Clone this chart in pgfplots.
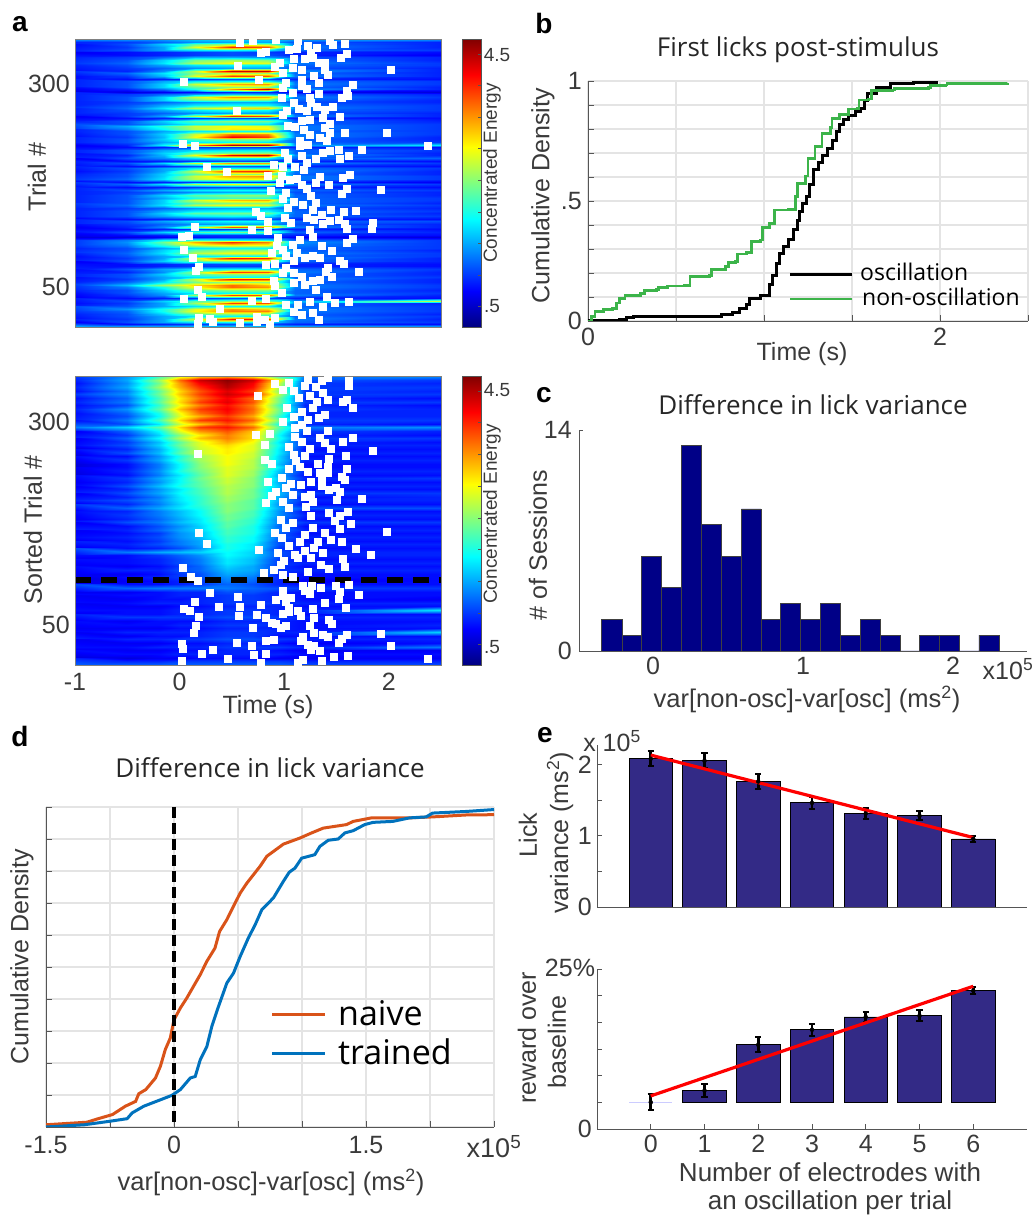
\documentclass[border=0pt]{standalone}
\usepackage{pgfplots}
\pgfplotsset{compat=1.18}
\usepackage{fontspec}
\setmainfont{Liberation Sans}
\newfontfamily\myr{Open Sans}
\definecolor{txt}{HTML}{3A3A3A}
\definecolor{gridc}{HTML}{E4E4E4}
\definecolor{axc}{HTML}{555555}
\definecolor{barp}{RGB}{51,42,134}
\definecolor{barn}{RGB}{0,0,135}
\definecolor{cnaive}{HTML}{D95319}
\definecolor{ctrain}{HTML}{0072BD}
\definecolor{cgreen}{HTML}{3CB44A}
\newcommand{\fs}[1]{\fontsize{#1}{#1}\selectfont}
\newcommand{\T}[4][0]{\node[inner sep=0pt,text=txt,rotate=#1] at (#2,#3) {#4};}
\pgfplotsset{
 every axis/.append style={scale only axis,enlargelimits=false,
  /pgf/number format/assume math mode=true,
  tick label style={font=\fs{25},text=txt,inner sep=0pt},
  axis line style={-,color=axc,line width=.9pt},
  tick style={color=axc,line width=.9pt},
  major tick length=6pt,minor tick length=0pt,tick align=inside},
 heat/.style={colormap/jet,point meta min=.18,point meta max=4.74,xmin=-1,xmax=2.5,
  width=366pt,axis on top,axis line style={color=gray,line width=.8pt},
  major tick length=0pt,xtick pos=bottom,ytick pos=left,yticklabel shift=5pt},
 whitesq/.style={only marks,mark=square*,mark size=3.5pt,mark options={fill=white,draw=white,line width=0pt}},
 cbar/.style={colormap/jet,point meta min=.18,point meta max=4.74,xmin=0,xmax=1,ymin=.18,ymax=4.74,
  width=19pt,axis on top,xtick=\empty,ytick={.5,1,1.5,2,2.5,3,3.5,4,4.5},yticklabels={},ytick pos=right,major tick length=3pt,
  axis line style={color=axc,line width=.8pt}},
 hmap/.style={surf,shader=interp,mesh/ordering=x varies,point meta=explicit},
}
\begin{document}
\begin{tikzpicture}[declare function={
 tcol(\i)=(\i<.5)?-1:((\i<1.5)?-.5:((\i<2.5)?-.2:((\i<3.5)?0:((\i<4.5)?.2:((\i<5.5)?.45:((\i<6.5)?.7:((\i<7.5)?.95:((\i<8.5)?1.2:2.5))))))));
 ucol(\i)=(\i<.5)?-1:((\i<1.5)?-.5:((\i<2.5)?-.15:((\i<3.5)?.15:((\i<4.5)?.5:((\i<5.5)?.85:((\i<6.5)?1.1:2.5))))));}]
\path[use as bounding box] (0,0) rectangle (1036pt,1216pt);
% ---------- a top
\begin{axis}[heat,at={(75pt,889pt)},height=288pt,ymin=1,ymax=355,xtick=\empty,ytick={50,300},yticklabels={50,300}]
\addplot[hmap,mesh/cols=8] table[row sep=\\,header=false,meta index=0,
 x expr={ucol(mod(\coordindex,8))},
 y expr={355-3.248*floor(\coordindex/8)}]{
1.5\\1.5\\1.5\\1.7\\1.8\\1.7\\1.5\\1.5\\
.9\\1\\1.2\\1.4\\1.5\\1.5\\1.1\\.9\\
.9\\1.1\\1.7\\2.3\\2.6\\2.5\\1.2\\.9\\
.8\\1\\1.5\\2.9\\4\\3.8\\1.3\\.9\\
.9\\1.1\\1.5\\1.8\\1.9\\1.8\\1.2\\1\\
.8\\.8\\.9\\1\\1.1\\1\\.9\\.8\\
.7\\.8\\.9\\1\\1.1\\1.1\\.9\\.7\\
.9\\1\\1.2\\1.5\\1.5\\1.4\\1.1\\.9\\
.9\\1.1\\1.7\\2.4\\2.6\\2.5\\1.2\\.9\\
1\\1.2\\1.8\\2.7\\3\\2.9\\1.3\\1\\
.9\\1.1\\1.5\\1.8\\1.9\\1.9\\1.2\\1\\
.9\\1\\1.2\\1.4\\1.5\\1.5\\1.1\\.9\\
.8\\.9\\1.4\\2.7\\4.4\\4.4\\1.4\\.9\\
1\\1.2\\1.8\\2.5\\2.7\\2.5\\1.2\\.9\\
.8\\1\\1.6\\2.9\\3.9\\3.8\\1.3\\.9\\
.8\\.8\\.9\\1\\1.1\\1.1\\.9\\.8\\
.9\\1.1\\1.5\\1.8\\1.9\\1.9\\1.2\\1\\
.9\\1.1\\1.7\\2.8\\3.4\\3.5\\1.3\\1\\
.9\\1.1\\1.7\\2.3\\2.5\\2.5\\1.2\\.9\\
.8\\.9\\1.3\\2\\3.5\\4.5\\1.4\\.9\\
.6\\.6\\.7\\.8\\.9\\.9\\.7\\.6\\
.9\\1\\1.2\\1.4\\1.6\\1.5\\1.1\\.9\\
.9\\1.1\\1.7\\2.8\\3.5\\3.4\\1.3\\1\\
.9\\1.1\\1.7\\2.3\\2.5\\2.4\\1.2\\.9\\
.9\\1\\1.2\\1.4\\1.5\\1.5\\1.1\\.9\\
.9\\1.1\\1.5\\1.8\\1.9\\1.9\\1.2\\1\\
1\\1.2\\1.8\\2.7\\3.1\\3.2\\1.3\\1\\
.9\\1.1\\1.5\\1.8\\2\\1.9\\1.2\\1\\
.9\\1\\1.2\\1.4\\1.5\\1.5\\1.1\\.9\\
.8\\1\\1.5\\2.7\\4\\3.9\\1.3\\.9\\
.7\\.8\\.9\\1\\1.1\\1.1\\.9\\.8\\
.9\\1.1\\1.7\\2.3\\2.5\\2.4\\1.2\\.9\\
.9\\1.1\\1.5\\1.9\\1.9\\1.8\\1.2\\1\\
1.1\\1.5\\2.1\\2.8\\3\\2.9\\1.3\\1\\
1\\1.3\\1.9\\2.7\\3.1\\3.1\\1.3\\1\\
.9\\1.1\\1.5\\1.8\\1.9\\1.9\\1.2\\1\\
.9\\1.1\\1.7\\2.8\\3.6\\3.5\\1.3\\1\\
.8\\1\\1.6\\3\\4.2\\3.9\\1.3\\.9\\
.9\\1.1\\1.7\\2.3\\2.5\\2.5\\1.2\\.9\\
.9\\1.1\\1.5\\1.8\\1.9\\1.8\\1.2\\1\\
.7\\.9\\1.9\\3.6\\4.5\\4.5\\1.4\\1.8\\
.7\\.8\\.9\\1\\1\\1\\.9\\.8\\
.9\\1.1\\1.5\\1.7\\1.8\\1.8\\1.2\\1\\
.9\\1.1\\1.7\\2.3\\2.4\\2.5\\1.2\\.9\\
.8\\.9\\1.6\\3\\4.3\\4.5\\1.4\\.9\\
.9\\1.1\\1.4\\1.8\\1.9\\1.9\\1.2\\1.2\\
.7\\.8\\.9\\1\\1.1\\1\\.9\\.8\\
.9\\1.1\\1.7\\2.8\\3.5\\3.4\\1.3\\1\\
.8\\.8\\.9\\1.1\\1.2\\1.1\\.9\\.8\\
.9\\1.1\\1.5\\1.8\\1.9\\1.9\\1.2\\1\\
.8\\1\\1.5\\2.8\\3.9\\4\\1.3\\.9\\
.9\\1.1\\1.7\\2.3\\2.5\\2.5\\1.2\\.9\\
.9\\1.1\\1.7\\2.8\\3.4\\3.5\\1.3\\1\\
1\\1.2\\1.8\\2.7\\3\\3\\1.3\\1\\
.7\\.8\\.9\\1\\1\\1\\.9\\.7\\
1\\1.2\\1.8\\2.7\\3\\3\\1.3\\1\\
.8\\.8\\.9\\1\\1.1\\1\\.9\\.8\\
.9\\1.1\\1.5\\1.8\\1.9\\1.9\\1.2\\1\\
.9\\1\\1.2\\1.4\\1.5\\1.5\\1.1\\.9\\
.9\\1.1\\1.7\\2.3\\2.5\\2.5\\1.2\\.9\\
.9\\1.1\\1.5\\2\\2.2\\2.1\\1.2\\1\\
.9\\1.1\\1.7\\2.8\\3.3\\3.4\\1.2\\1\\
.9\\1.1\\1.7\\2.3\\2.5\\2.5\\1.2\\.9\\
1\\1.2\\1.8\\2.7\\3\\2.9\\1.3\\1\\
.9\\1\\1.2\\1.4\\1.5\\1.5\\1.1\\.9\\
.9\\1.1\\1.5\\1.8\\1.9\\1.9\\1.2\\1\\
.9\\1.1\\1.7\\2.3\\2.4\\2.4\\1.2\\.9\\
.9\\1.1\\1.5\\1.8\\1.9\\1.8\\1.2\\1\\
.7\\.8\\.9\\1\\1.1\\1.1\\.9\\.8\\
.9\\1.1\\1.5\\1.8\\1.9\\1.9\\1.2\\1.1\\
.9\\1\\1.2\\1.4\\1.5\\1.5\\1.1\\.9\\
.8\\.9\\1.4\\2.6\\3.8\\3.7\\1.3\\.9\\
.7\\.8\\.9\\1\\1\\1\\.9\\.8\\
.9\\1.1\\1.7\\2.2\\2.4\\2.4\\1.2\\.9\\
.8\\.8\\.9\\1\\1\\1\\.9\\.8\\
.6\\.6\\.7\\.8\\.9\\.9\\.7\\.6\\
1\\1.3\\1.9\\2.1\\2\\1.9\\1.2\\1\\
1\\1.4\\2.4\\3.4\\4\\3.6\\1.4\\1\\
1\\1.3\\2.1\\2.8\\3.1\\3\\1.3\\1\\
.9\\1.1\\1.5\\1.8\\1.9\\1.9\\1.2\\1\\
.9\\1.1\\1.7\\2.3\\2.5\\2.5\\1.2\\.9\\
1\\1.2\\1.8\\2.7\\3\\3\\1.3\\1\\
.9\\1.1\\1.5\\1.8\\1.9\\1.9\\1.2\\1\\
.8\\1\\1.5\\2.8\\4.1\\4\\1.3\\.9\\
.9\\1.1\\1.7\\2.3\\2.5\\2.5\\1.2\\.9\\
.7\\.8\\.9\\1\\1.1\\1.1\\.9\\.8\\
.8\\.8\\.9\\1\\1\\1\\.9\\.8\\
.9\\1.1\\1.5\\1.8\\1.9\\1.9\\1.2\\1\\
.8\\.9\\1.4\\2.6\\3.9\\3.8\\1.3\\.9\\
.9\\1.1\\1.7\\2.3\\2.5\\2.5\\1.2\\.9\\
.9\\1.1\\1.5\\1.8\\1.9\\1.9\\1.2\\1\\
.8\\1\\1.5\\2.8\\4.1\\4\\1.3\\.9\\
.9\\1.2\\1.8\\2.4\\2.5\\2.5\\1.2\\.9\\
1.1\\1.6\\2.6\\3.2\\3.7\\3.3\\1.3\\1\\
1\\1.3\\2\\3\\3.7\\3.5\\1.3\\1\\
.9\\1.1\\1.7\\2.3\\2.5\\2.5\\1.2\\.9\\
.9\\1.1\\1.5\\1.8\\1.9\\1.9\\1.2\\1\\
.8\\1\\1.4\\2.6\\3.9\\3.8\\1.3\\.9\\
.7\\.8\\.9\\1\\1.1\\1.1\\.9\\.8\\
.9\\1.1\\1.7\\2.3\\2.5\\2.5\\1.5\\2.8\\
.8\\1\\1.5\\2.6\\3.9\\3.8\\1.3\\.9\\
.9\\1.1\\1.5\\1.8\\1.9\\1.9\\1.2\\1\\
1.1\\1.4\\2\\2.9\\3.5\\3.2\\1.3\\1\\
1\\1.2\\2\\3\\3.6\\3.6\\1.3\\1\\
.9\\1.1\\1.7\\2.3\\2.5\\2.5\\1.2\\.9\\
.9\\1.1\\1.5\\1.8\\1.9\\1.9\\1.2\\1\\
.8\\1\\1.5\\2.8\\4.1\\4\\1.3\\.9\\
.9\\1.1\\1.5\\1.8\\1.9\\1.8\\1.2\\1\\
.7\\.8\\.9\\1\\1.1\\1.1\\.9\\.8\\
1.7\\1.7\\1.7\\1.8\\1.8\\1.8\\1.7\\1.7\\
};
\addplot[whitesq] coordinates {(.58,350)(.70,353)(.92,354)(1.13,352)(1.44,353)(1.47,348)(1.58,349)(1.05,342)(1.12,343)(.78,338)(.83,339)(1.23,346)(1.31,344)(1.26,338)(1.60,336)(1.54,332)(1.28,332)(1.20,330)(1.33,325)(1.39,326)(.56,322)(.91,321)(.96,325)(1.09,330)(1.08,319)(1.17,317)(.99,313)(2.02,317)(1.39,317)(1.42,311)(1.29,309)(1.17,305)(.04,302)(.76,305)(1.33,301)(1.02,301)(.99,295)(1.17,297)(1.22,293)(1.66,298)(1.60,291)(1.55,282)(1.61,285)(1.08,289)(.98,282)(1.33,287)(1.25,282)(1.26,276)(1.09,276)(1.47,272)(1.39,268)(1.31,271)(.55,267)(1.03,267)(1.14,269)(1.22,266)(.99,261)(1.53,259)(1.37,258)(1.25,256)(1.17,254)(1.04,248)(1.10,247)(1.44,250)(1.19,243)(1.39,246)(1.58,239)(1.98,239)(1.25,237)(1.44,239)(1.34,233)(1.15,229)(1.41,230)(.03,226)(.15,224)(1.23,225)(1.15,224)(2.38,223)(1.74,219)(1.52,219)(1.44,217)(1.37,215)(1.01,215)(1.62,211)(1.17,211)(1.53,207)(1.04,207)(1.30,207)(1.22,203)(.90,200)(.26,198)(1.10,198)(.99,198)(1.19,194)(.45,191)(1.63,188)(.98,186)(.85,187)(1.56,184)(1.34,185)(1.06,182)(1.12,183)(.96,178)(1.30,178)(1.43,176)(1.17,176)(1.60,170)(1.93,169)(.87,168)(1.22,170)(1.02,166)(1.55,164)(1.26,162)(.99,158)(1.09,155)(1.30,153)(1.18,151)(1.04,147)(1.28,145)(1.69,144)(.73,142)(1.45,145)(1.57,142)(1.36,139)(.78,137)(1.01,135)(1.22,135)(1.29,133)(1.52,133)(1.44,131)(1.85,129)(.85,130)(1.07,129)(1.37,127)(1.58,127)(.15,124)(1.60,121)(1.84,121)(.69,120)(.85,119)(1.25,120)(.02,112)(.09,113)(.94,110)(1.28,112)(1.66,109)(1.60,104)(1.15,108)(1.08,102)(1.36,100)(.93,100)(.04,96)(.99,96)(1.46,94)(.88,92)(1.12,92)(1.02,88)(1.28,88)(.13,86)(1.20,86)(1.34,86)(1.53,82)(1.09,82)(1.57,79)(.91,79)(.83,77)(.19,75)(1.42,73)(1.02,73)(.16,70)(1.09,67)(1.72,69)(.99,67)(1.40,68)(1.46,63)(1.17,63)(1.34,59)(.90,57)(1.28,57)(1.09,55)(1.20,53)(.91,51)(.18,47)(1.30,47)(.98,43)(.21,38)(.04,35)(.83,36)(1.41,38)(1.25,32)(1.62,32)(.69,33)(1.49,30)(1.02,28)(1.13,28)(1.37,26)(.39,23)(1.09,20)(1.28,18)(1.17,16)(.19,12)(.29,11)(.32,7)(.74,13)(.74,7)(.91,12)(.82,9)(.58,6)(.18,5)(.86,4)(1.33,10)};
\end{axis}
\begin{axis}[cbar,at={(462pt,889pt)},height=288pt]
\addplot[surf,shader=interp,mesh/cols=2,point meta=y] coordinates {(0,.18)(1,.18)(0,4.74)(1,4.74)};
\end{axis}
% ---------- a bottom
\begin{axis}[heat,at={(75pt,551pt)},height=289pt,ymin=1,ymax=357,xtick={-1,0,1,2},xticklabels={-1,0,1,2},xticklabel shift=8pt,ytick={50,300},yticklabels={50,300}]
\addplot[hmap,mesh/cols=10] table[row sep=\\,header=false,meta index=0,
 x expr={tcol(mod(\coordindex,10))},
 y expr={357-4.506*floor(\coordindex/10)}]{
1\\1.4\\2.1\\2.8\\3.1\\3.2\\2.9\\2\\1.2\\1.4\\
.9\\1.5\\2.6\\3.7\\4.4\\4.7\\4.4\\3.1\\1.1\\1\\
.8\\1.4\\2.4\\3.5\\4.2\\4.6\\4.2\\2.8\\1\\.9\\
.9\\1.5\\2.6\\3.4\\4\\4.5\\4.1\\2.7\\1\\1\\
.8\\1.3\\2.3\\3.2\\3.8\\4.3\\3.9\\2.5\\1\\.9\\
1\\1.4\\2.4\\3.3\\3.9\\4.4\\4.1\\2.7\\1\\1\\
.8\\1.2\\2.2\\3.1\\3.7\\4.2\\3.7\\2.4\\.9\\.8\\
.9\\1.3\\2.3\\3.2\\3.9\\4.3\\3.8\\2.4\\1\\1\\
.8\\1.1\\2.1\\3\\3.6\\4.1\\3.6\\2.2\\.9\\.8\\
.9\\1.4\\2.3\\3.3\\3.9\\4.2\\3.7\\2.4\\1\\.9\\
.8\\1.2\\2\\3\\3.7\\4.1\\3.6\\2.3\\.9\\.9\\
.8\\1.1\\1.9\\2.9\\3.4\\3.9\\3.4\\2.1\\.9\\.9\\
.9\\1.3\\2.2\\3.2\\3.9\\4.1\\3.7\\2.4\\1\\1\\
.8\\1.1\\1.8\\2.8\\3.3\\3.8\\3.3\\2\\.9\\.8\\
1.3\\1.7\\2.3\\3.2\\3.9\\4.1\\3.7\\2.3\\1.3\\1.4\\
.8\\1.2\\1.9\\2.9\\3.5\\3.8\\3.3\\2.1\\1\\.9\\
.7\\1\\1.7\\2.5\\3.1\\3.6\\3.2\\1.9\\.9\\.8\\
.9\\1.2\\1.9\\2.7\\3.3\\3.6\\3.2\\2\\1\\1\\
.7\\1\\1.6\\2.3\\2.9\\3.4\\3\\1.8\\.9\\.8\\
.8\\1.1\\1.7\\2.4\\2.9\\3.2\\2.9\\1.9\\.9\\.9\\
.6\\.9\\1.5\\2.2\\2.8\\3.1\\2.9\\1.8\\.8\\.8\\
.8\\1.1\\1.6\\2.3\\2.8\\3.1\\2.8\\1.8\\.9\\.9\\
.6\\.8\\1.4\\2\\2.6\\3\\2.8\\1.7\\.8\\.8\\
.8\\1\\1.5\\2.1\\2.6\\3\\2.7\\1.7\\.9\\.9\\
.6\\.8\\1.3\\1.9\\2.5\\3\\2.7\\1.6\\.8\\.8\\
.6\\.8\\1.3\\1.9\\2.5\\2.9\\2.7\\1.8\\.8\\.8\\
.7\\.9\\1.4\\2\\2.4\\2.9\\2.6\\1.6\\.9\\.9\\
.6\\.8\\1.3\\1.8\\2.3\\2.9\\2.6\\1.5\\.8\\.8\\
.8\\1\\1.5\\1.9\\2.4\\2.8\\2.5\\1.6\\.9\\1\\
.7\\.9\\1.4\\1.9\\2.3\\2.8\\2.5\\1.5\\.8\\.8\\
.8\\1.1\\1.6\\2\\2.3\\2.7\\2.5\\1.6\\.9\\.9\\
.7\\.9\\1.4\\1.8\\2.2\\2.7\\2.4\\1.5\\.8\\.8\\
.9\\1.1\\1.5\\1.9\\2.2\\2.7\\2.4\\1.6\\1\\1\\
.7\\.9\\1.3\\1.8\\2.1\\2.6\\2.4\\1.5\\.8\\.9\\
.9\\1.1\\1.4\\1.8\\2.1\\2.6\\2.3\\1.5\\.9\\.9\\
.7\\.9\\1.3\\1.7\\2.1\\2.5\\2.3\\1.4\\.8\\.8\\
1\\1.2\\1.5\\1.8\\2\\2.5\\2.3\\1.5\\1.1\\1.1\\
.7\\.9\\1.3\\1.6\\1.9\\2.5\\2.2\\1.4\\.8\\.8\\
.8\\1\\1.3\\1.6\\1.9\\2.4\\2.2\\1.4\\.9\\.9\\
.7\\.9\\1.2\\1.5\\1.8\\2.4\\2.1\\1.3\\.8\\.8\\
.9\\1.1\\1.3\\1.6\\1.8\\2.3\\2.1\\1.3\\1\\1\\
.7\\.8\\1.1\\1.4\\1.7\\2.3\\2\\1.2\\.8\\.8\\
.9\\.9\\1.2\\1.5\\1.7\\2.2\\2\\1.3\\.9\\.9\\
.7\\.8\\1\\1.4\\1.6\\2.2\\2\\1.2\\.8\\.8\\
.8\\.9\\1.1\\1.4\\1.6\\2.1\\1.9\\1.2\\.9\\.9\\
.7\\.8\\1\\1.3\\1.5\\2.1\\1.9\\1.1\\.8\\.8\\
.9\\.9\\1.1\\1.3\\1.5\\2\\1.8\\1.1\\.9\\.9\\
.7\\.8\\.9\\1.1\\1.4\\2\\1.8\\1\\.8\\.8\\
1.1\\1.3\\1.5\\1.6\\1.7\\1.9\\1.7\\1.1\\.9\\.9\\
.8\\.8\\1\\1.2\\1.4\\1.9\\1.7\\1.1\\.9\\.9\\
.7\\.8\\.9\\1.1\\1.3\\1.8\\1.6\\1\\.8\\.8\\
.8\\.8\\.9\\1.1\\1.3\\1.8\\1.6\\1\\.9\\.9\\
.7\\.7\\.8\\1\\1.2\\1.7\\1.5\\1\\.8\\.8\\
.8\\.9\\.9\\1.1\\1.2\\1.6\\1.5\\1\\.9\\.9\\
.7\\.7\\.8\\1\\1.1\\1.5\\1.4\\.9\\.8\\.8\\
.7\\.8\\.9\\1\\1.1\\1.4\\1.3\\.9\\.8\\.8\\
.6\\.7\\.8\\.9\\1\\1.3\\1.2\\.9\\.7\\.8\\
.7\\.8\\.8\\.9\\1\\1.2\\1.1\\.9\\.8\\.8\\
1.1\\1.2\\1.3\\1.3\\1.3\\1.3\\1.2\\1.1\\1\\1\\
.7\\.7\\.8\\.9\\.9\\1.1\\1.1\\.9\\.8\\.8\\
.8\\.8\\.8\\.9\\.9\\1\\1\\.9\\.8\\.8\\
.7\\.7\\.8\\.8\\.9\\1\\1\\.9\\.8\\.7\\
.8\\.8\\.9\\.9\\.9\\1\\1\\1\\.9\\.9\\
.7\\.7\\.7\\.8\\.8\\.9\\.9\\.9\\.8\\.8\\
.8\\.8\\.8\\.9\\.9\\1\\1\\.9\\.9\\1.8\\
.7\\.8\\.8\\.9\\.9\\1\\1\\.9\\.8\\.8\\
.9\\1\\1\\1\\1\\1.1\\1.1\\1\\.9\\.9\\
.7\\.7\\.8\\.8\\.8\\.9\\.9\\.9\\.8\\.8\\
.8\\.8\\.8\\.9\\.9\\1\\1\\.9\\.8\\.9\\
.7\\.7\\.7\\.8\\.8\\.9\\.9\\.9\\.8\\.8\\
.8\\.9\\.9\\.9\\.9\\1\\1\\.9\\.9\\1.7\\
.7\\.7\\.8\\.8\\.9\\1\\1\\.8\\.8\\.8\\
.9\\.9\\.9\\1\\1\\1.1\\1.1\\1\\.9\\.9\\
.7\\.7\\.7\\.8\\.8\\.9\\.9\\.8\\.7\\.8\\
.8\\.8\\.9\\.9\\.9\\1\\1\\1\\.9\\1.3\\
.7\\.7\\.7\\.8\\.8\\.9\\.9\\.8\\.7\\.7\\
.8\\.8\\.8\\.9\\.9\\.9\\.9\\.9\\.8\\.8\\
.6\\.6\\.7\\.7\\.8\\.8\\.8\\.7\\.7\\.7\\
.9\\.9\\.9\\1\\1\\1\\1\\1\\.9\\.9\\
1.2\\1.2\\1.2\\1.2\\1.2\\1.2\\1.2\\1.2\\1.1\\1.1\\
};
\addplot[whitesq] coordinates {(.91,347)(1.05,348)(1.23,352)(1.36,351)(1.42,355)(1.62,351)(1.62,345)(1.20,345)(1.30,344)(.99,340)(1.09,338)(1.37,336)(.75,332)(1.14,330)(1.25,332)(1.42,327)(1.56,325)(1.31,325)(1.66,318)(1.03,317)(1.28,317)(1.60,327)(1.17,313)(1.39,309)(1.09,307)(1.33,305)(.99,300)(1.23,303)(1.17,297)(1.10,293)(1.42,289)(1.22,289)(.73,284)(.86,285)(1.10,282)(1.66,281)(1.34,280)(1.56,276)(.82,272)(1.17,276)(1.39,274)(1.05,269)(1.25,267)(1.45,267)(1.85,264)(.18,261)(1.09,260)(1.59,259)(1.20,258)(1.43,255)(.82,254)(.88,248)(1.11,252)(1.32,249)(1.42,245)(1.05,243)(1.15,245)(1.60,242)(1.23,239)(1.34,237)(1.55,233)(1.58,229)(.98,231)(1.42,237)(.85,226)(1.36,230)(1.07,224)(1.16,223)(1.26,226)(1.36,221)(1.50,219)(1.43,217)(1.02,219)(1.53,214)(.92,214)(.88,209)(1.08,210)(1.20,208)(1.26,211)(1.74,206)(.83,200)(.99,202)(1.51,204)(1.28,202)(1.05,194)(1.21,196)(1.43,188)(1.61,189)(1.53,184)(1.26,184)(.97,180)(1.49,178)(1.08,176)(1.64,175)(1.02,170)(1.28,170)(1.53,168)(.19,163)(1.98,165)(.91,163)(1.20,161)(1.39,163)(.98,157)(1.15,153)(1.32,153)(1.45,155)(.26,150)(1.55,153)(1.05,148)(1.20,141)(1.29,145)(.76,143)(1.69,144)(.94,139)(1.10,137)(1.37,139)(1.83,136)(1.26,133)(1.56,131)(1.00,129)(1.13,133)(1.35,124)(1.58,122)(.97,124)(.03,120)(.90,118)(1.43,119)(.81,114)(1.23,116)(.11,110)(.99,112)(1.08,110)(.18,104)(1.62,100)(1.50,98)(1.18,98)(1.27,98)(1.35,96)(1.53,91)(.29,90)(.99,92)(1.20,92)(1.25,88)(.56,85)(1.72,87)(.99,86)(1.07,84)(1.52,82)(.92,81)(.15,78)(1.39,77)(1.02,79)(.78,75)(.58,73)(.38,73)(.04,70)(1.28,70)(1.05,71)(.10,67)(1.59,71)(1.13,68)(1.16,61)(.19,60)(.57,61)(.74,63)(1.29,59)(.99,64)(1.05,66)(.83,59)(1.43,57)(.88,53)(.92,52)(1.46,51)(1.02,49)(.16,49)(.97,46)(.70,47)(1.25,49)(.14,41)(1.29,41)(1.93,39)(1.60,38)(1.37,38)(1.18,36)(1.42,36)(1.55,33)(.83,31)(.90,32)(1.16,30)(1.52,28)(.55,28)(1.23,26)(.02,27)(.69,25)(1.29,24)(2.02,24)(.03,21)(1.26,20)(1.34,18)(.32,20)(.21,15)(.71,13)(.83,14)(1.61,12)(1.48,11)(2.38,9)(.46,8)(.02,6)(1.36,6)(1.18,7)(.78,3)(1.13,3)};
\addplot[black,line width=6pt,dash pattern=on 16pt off 10pt] coordinates {(-1,106)(2.5,106)};
\end{axis}
\begin{axis}[cbar,at={(462pt,551pt)},height=289pt]
\addplot[surf,shader=interp,mesh/cols=2,point meta=y] coordinates {(0,.18)(1,.18)(0,4.74)(1,4.74)};
\end{axis}
% ---------- b
\begin{axis}[at={(588pt,895pt)},width=440pt,height=240pt,xmin=0,xmax=2.5,ymin=0,ymax=1,
 xtick={0,.5,1,1.5,2,2.5},xticklabels={0,,,,2,},ytick={0,.1,.2,.3,.4,.5,.6,.7,.8,.9,1},yticklabels={0,,,,,.5,,,,,1},
 xmajorgrids,ymajorgrids,grid style={color=gridc,line width=1.3pt},
 axis x line*=bottom,axis y line*=left,xticklabel shift=7pt,yticklabel shift=6pt]
\addplot[const plot,black,line width=3pt] coordinates {(0,0)(.1,.002)(.18,.008)(.22,.015)(.26,.02)(.73,.02)(.76,.027)(.82,.035)(.86,.05)(.90,.067)(.92,.095)(.98,.108)(1.03,.15)(1.05,.19)(1.07,.24)(1.09,.28)(1.11,.31)(1.14,.34)(1.17,.38)(1.19,.42)(1.20,.455)(1.22,.49)(1.24,.52)(1.26,.57)(1.28,.63)(1.31,.66)(1.33,.69)(1.36,.72)(1.39,.754)(1.41,.79)(1.43,.82)(1.45,.84)(1.48,.858)(1.52,.872)(1.55,.886)(1.57,.92)(1.59,.949)(1.64,.974)(1.72,.988)(1.85,.994)(1.99,.994)};
\addplot[const plot,cgreen,line width=2.8pt] coordinates {(0,0)(.02,.02)(.04,.039)(.09,.049)(.14,.053)(.16,.075)(.18,.094)(.21,.107)(.30,.113)(.32,.126)(.39,.132)(.40,.14)(.45,.146)(.55,.149)(.58,.185)(.69,.188)(.70,.215)(.78,.226)(.80,.243)(.84,.247)(.85,.279)(.90,.285)(.93,.33)(.98,.3375)(.99,.39)(1.03,.407)(1.06,.4625)(1.14,.465)(1.18,.518)(1.19,.574)(1.235,.604)(1.25,.678)(1.29,.726)(1.33,.782)(1.38,.807)(1.386,.844)(1.43,.861)(1.48,.883)(1.53,.886)(1.54,.921)(1.595,.925)(1.61,.96)(1.73,.9625)(1.74,.969)(1.935,.972)(1.945,.98)(2.03,.983)(2.04,.99)(2.385,.992)};
\end{axis}
% ---------- c
\begin{axis}[at={(579pt,565pt)},width=448pt,height=221pt,xmin=-.493,xmax=2.493,ymin=0,ymax=14,
 xtick={0,1,2},xticklabels={0,1,2},ytick={0,14},yticklabels={0,14},axis x line*=bottom,axis y line*=left,
 xticklabel shift=6pt,yticklabel shift=7pt,major tick length=4pt]
\addplot[ybar interval,fill=barn,draw=black!75,line width=.8pt] coordinates {(-.344,2)(-.207,1)(-.078,6)(.056,4)(.189,13)(.322,8)(.456,6)(.589,9)(.72,2)(.851,3)(.984,2)(1.116,3)(1.249,1)(1.382,2)(1.516,1)(1.649,0)(1.778,1)(1.911,1)(2.044,0)(2.173,1)(2.311,1)};
\end{axis}
% ---------- d
\begin{axis}[at={(46pt,89pt)},width=448pt,height=320pt,xmin=-1,xmax=2.5,ymin=0,ymax=1,
 xtick={-1,-.5,0,.5,1,1.5,2,2.5},xticklabels={-1.5,,0,,,1.5,,},ytick={0,.1,.2,.3,.4,.5,.6,.7,.8,.9,1},yticklabels={},
 xmajorgrids,ymajorgrids,grid style={color=gridc,line width=1.3pt},axis x line*=bottom,axis y line*=left,xticklabel shift=9pt]
\addplot[cnaive,line width=3pt] coordinates {(-1,.007)(-.68,.015)(-.6,.025)(-.48,.039)(-.38,.065)(-.30,.08)(-.275,.104)(-.22,.117)(-.145,.153)(-.106,.19)(-.068,.242)(-.029,.278)(0,.335)(.05,.372)(.10,.403)(.153,.44)(.205,.476)(.257,.518)(.32,.559)(.356,.611)(.413,.648)(.465,.69)(.517,.731)(.57,.7625)(.673,.815)(.725,.846)(.855,.884)(.984,.903)(1.075,.919)(1.166,.934)(1.348,.945)(1.4,.955)(1.543,.966)(1.84,.966)(2.02,.969)(2.28,.975)(2.5,.976)};
\addplot[ctrain,line width=3pt] coordinates {(-1,0)(-.70,.007)(-.5,.018)(-.366,.026)(-.327,.044)(-.236,.065)(-.106,.085)(-.016,.099)(.05,.117)(.127,.153)(.166,.158)(.205,.21)(.257,.252)(.296,.315)(.348,.377)(.413,.45)(.465,.481)(.517,.533)(.58,.59)(.634,.632)(.686,.679)(.777,.716)(.855,.768)(.9,.796)(.945,.809)(.997,.84)(1.1,.851)(1.14,.877)(1.205,.896)(1.283,.9)(1.335,.919)(1.4,.926)(1.49,.945)(1.556,.952)(1.71,.955)(1.84,.966)(1.97,.969)(2.02,.981)(2.28,.986)(2.5,.992)};
\addplot[black,line width=3.2pt,dash pattern=on 11pt off 5pt] coordinates {(0,1)(0,0)};
\end{axis}
% ---------- e top
\begin{axis}[at={(597pt,309pt)},width=430pt,height=162pt,xmin=-1,xmax=7,ymin=0,ymax=2.272,
 xtick=\empty,ytick={0,.5,1,1.5,2},yticklabels={0,,1,,2},axis x line*=bottom,axis y line*=left,yticklabel shift=5pt,major tick length=5pt]
\addplot[ybar,bar width=43.3pt,bar shift=0pt,fill=barp,draw=black,line width=.8pt] coordinates {(0,2.08)(1,2.05)(2,1.76)(3,1.46)(4,1.31)(5,1.28)(6,.955)};
\addplot[only marks,mark=none,error bars/.cd,y dir=both,y explicit,error bar style={line width=2.6pt,black},error mark options={rotate=90,mark size=3.2pt,line width=2pt,black}] coordinates {(0,2.08)+-(0,.108)(1,2.05)+-(0,.105)(2,1.76)+-(0,.11)(3,1.46)+-(0,.085)(4,1.31)+-(0,.077)(5,1.28)+-(0,.063)(6,.955)+-(0,.04)};
\addplot[red,line width=3.2pt] coordinates {(0,2.13)(6,.974)};
\end{axis}
% ---------- e bottom
\begin{axis}[at={(597pt,87pt)},width=430pt,height=160pt,xmin=-1,xmax=7,ymin=0,ymax=25,hide axis,ybar stacked,bar shift=0pt,bar width=43.3pt]
\addplot[draw=none,fill=none] coordinates {(1,4.17)(2,4.17)(3,4.17)(4,4.17)(5,4.17)(6,4.17)};
\addplot[fill=barp,draw=black,line width=.8pt] coordinates {(1,1.83)(2,8.98)(3,11.33)(4,13.33)(5,13.53)(6,17.43)};
\end{axis}
\begin{axis}[at={(597pt,87pt)},width=430pt,height=160pt,xmin=-1,xmax=7,ymin=0,ymax=25,
 xtick={0,1,2,3,4,5,6},ytick={0,4.167,8.333,12.5,16.667,20.833,25},yticklabels={0,,,,,,},axis x line*=bottom,axis y line*=left,
 xticklabel shift=6pt,yticklabel shift=5pt,major tick length=5pt]
\addplot[color=blue!20,line width=.8pt] coordinates {(-.4,4.2)(.4,4.2)};
\addplot[only marks,mark=none,error bars/.cd,y dir=both,y explicit,error bar style={line width=2.6pt,black},error mark options={rotate=90,mark size=3.2pt,line width=2pt,black}] coordinates {(0,4.17)+-(0,1.25)(1,6.0)+-(0,1.07)(2,13.15)+-(0,1.17)(3,15.5)+-(0,.91)(4,17.5)+-(0,.78)(5,17.7)+-(0,.86)(6,21.6)+-(0,.52)};
\addplot[red,line width=3.2pt] coordinates {(0,5.17)(6,22.3)};
\end{axis}
% ---------- text in page pixels, y down
\begin{scope}[shift={(0pt,1216pt)},x=1pt,y=-1pt]
\foreach \x/\y/\l in {20/24/a,544/24/b,544/395/c,20/736/d,545/735/e}{\node[inner sep=0pt,text=black,font=\bfseries\fs{28}] at (\x,\y) {\l};}
\T[90]{37}{177}{\fs{25}Trial \#}
\T[90]{33}{530}{\fs{25}Sorted Trial \#}
\T{268}{707}{\fs{25}Time (s)}
\T[90]{492}{173}{\fs{19}Concentrated Energy}
\T[90]{492}{514}{\fs{19}Concentrated Energy}
\T{497}{55}{\fs{19}4.5}
\T{492}{306}{\fs{19}.5}
\T{497}{390}{\fs{19}4.5}
\T{492}{647}{\fs{19}.5}
\T[90]{543}{196}{\fs{25}Cumulative Density}
\T{802}{354}{\fs{25}Time (s)}
\node[inner sep=0pt,text=black!85] at (798,50) {\myr\fs{26}First licks post-stimulus};
\draw[black,line width=3pt] (790,275)--(852,275);
\draw[cgreen,line width=2.8pt] (790,299)--(852,299);
\node[inner sep=0pt,text=black,anchor=west] at (860,272) {\myr\fs{23}oscillation};
\node[inner sep=0pt,text=black,anchor=west] at (862,297) {\myr\fs{23}non-oscillation};
\node[inner sep=0pt,text=black!85] at (813,405) {\myr\fs{26}Difference in lick variance};
\T[90]{538}{545}{\fs{25}\# of Sessions}
\T{807}{699}{\fs{25.5}var[non-osc]-var[osc] (ms\textsuperscript{2})}
\T{1008}{669}{\fs{25}x10\textsuperscript{5}}
\node[inner sep=0pt,text=black!85] at (270,768) {\myr\fs{26}Difference in lick variance};
\T[90]{22}{957}{\fs{25}Cumulative Density}
\T{271}{1182}{\fs{25.5}var[non-osc]-var[osc] (ms\textsuperscript{2})}
\T{494}{1147}{\fs{27}x10\textsuperscript{5}}
\draw[cnaive,line width=3pt] (272,1015)--(325,1015);
\draw[ctrain,line width=3pt] (272,1054)--(325,1054);
\node[inner sep=0pt,text=black,anchor=west] at (338,1013) {\myr\fs{34}naive};
\node[inner sep=0pt,text=black,anchor=west] at (338,1052) {\myr\fs{34}trained};
\T{612}{741}{\fs{25}x 10\textsuperscript{5}}
\T[90]{528}{835}{\fs{25}Lick}
\T[90]{560}{833}{\fs{25}variance (ms\textsuperscript{2})}
\T[90]{527}{1038}{\fs{25}reward over}
\T[90]{557}{1042}{\fs{25}baseline}
\T{570}{968}{\fs{25}25\%}
\T{830}{1172}{\fs{26}Number of electrodes with}
\T{830}{1203}{\fs{26}an oscillation per trial}
\end{scope}
\end{tikzpicture}
\end{document}
